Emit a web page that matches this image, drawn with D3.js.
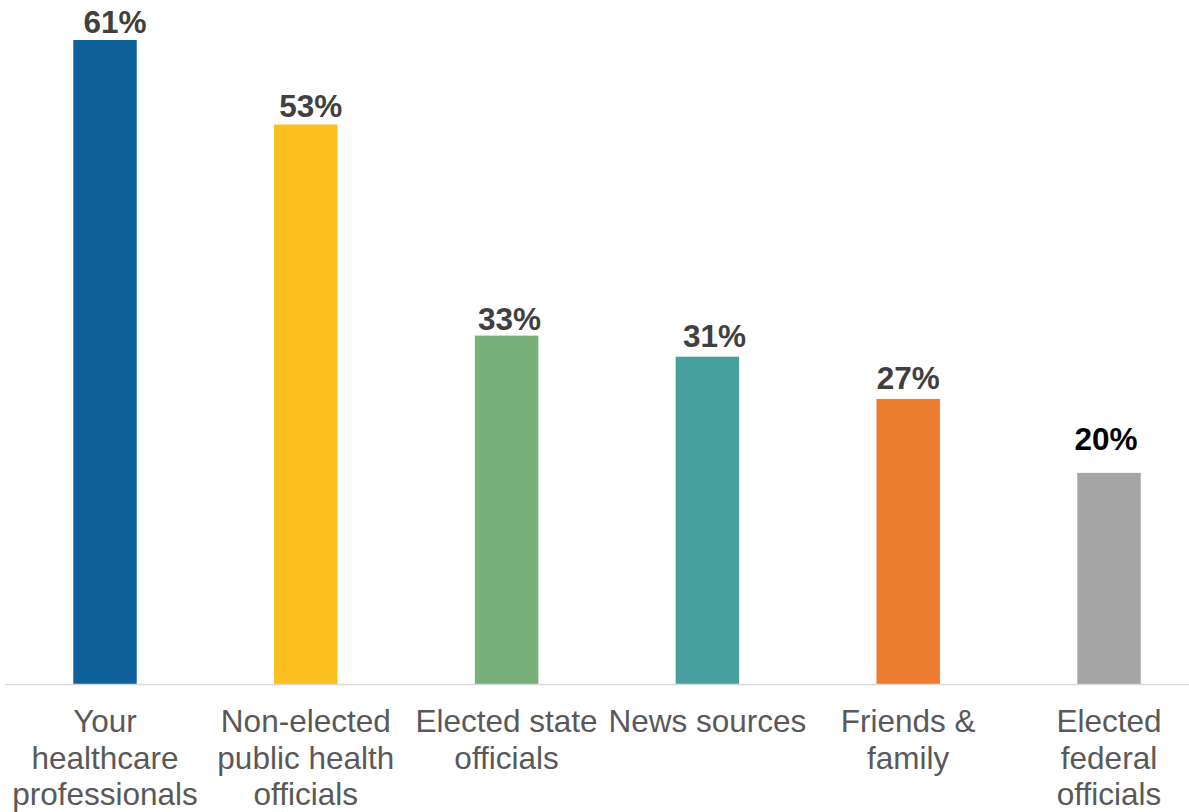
<!DOCTYPE html>
<html><head><meta charset="utf-8">
<script src="https://cdn.jsdelivr.net/npm/d3@7"></script>
<style>body{margin:0;background:#fff}svg{display:block}</style>
</head><body>
<script>
const categories = ["Your healthcare professionals","Non-elected public health officials","Elected state officials","News sources","Friends & family","Elected federal officials"];
const categoryLines = [["Your","healthcare","professionals"],["Non-elected","public health","officials"],["Elected state","officials"],["News sources"],["Friends &","family"],["Elected","federal","officials"]];
const values = [61,53,33,31,27,20];
const valueLabels = ["61%","53%","33%","31%","27%","20%"];
const colors = ["#0e6198","#fbbf1f","#77b07b","#46a19e","#ec7c30","#a5a5a5"];
const labelColors = ["#404040","#404040","#404040","#404040","#404040","#000000"];
// layout nudges for value labels (as in the original, manually placed)
const labelDx = [10,5,3,7,0,-3];
const labelDy = [-7,-7,-6,-10,-10,-23];

const W=1189,H=812;
const svg=d3.select("body").append("svg").attr("width",W).attr("height",H);
const x=d3.scaleBand().domain(categories).range([4.6,1209.4]).paddingInner(0.684).paddingOuter(0.342);
const y=d3.scaleLinear().domain([0,61]).range([684,40]);
const font="Liberation Sans, Arial, sans-serif";

svg.selectAll("rect.bar").data(values).enter().append("rect")
  .attr("x",(d,i)=>x(categories[i])).attr("width",x.bandwidth())
  .attr("y",d=>y(d)).attr("height",d=>y(0)-y(d)).attr("fill",(d,i)=>colors[i]);

svg.append("line").attr("x1",5).attr("x2",W).attr("y1",y(0)+0.5).attr("y2",y(0)+0.5)
  .attr("stroke","#d9d9d9").attr("stroke-width",1.5);

svg.selectAll("text.val").data(values).enter().append("text")
  .attr("x",(d,i)=>x(categories[i])+x.bandwidth()/2+labelDx[i])
  .attr("y",(d,i)=>y(d)+labelDy[i])
  .attr("text-anchor","middle").attr("font-family",font).attr("font-weight","bold")
  .attr("font-size",31.5).attr("fill",(d,i)=>labelColors[i]).text((d,i)=>valueLabels[i]);

categories.forEach((c,i)=>{
  const t=svg.append("text").attr("text-anchor","middle").attr("font-family",font)
    .attr("font-size",31.5).attr("fill","#595959");
  categoryLines[i].forEach((ln,j)=>{
    t.append("tspan").attr("x",x(c)+x.bandwidth()/2).attr("y",732+j*36.5).text(ln);
  });
});
</script>
</body></html>
